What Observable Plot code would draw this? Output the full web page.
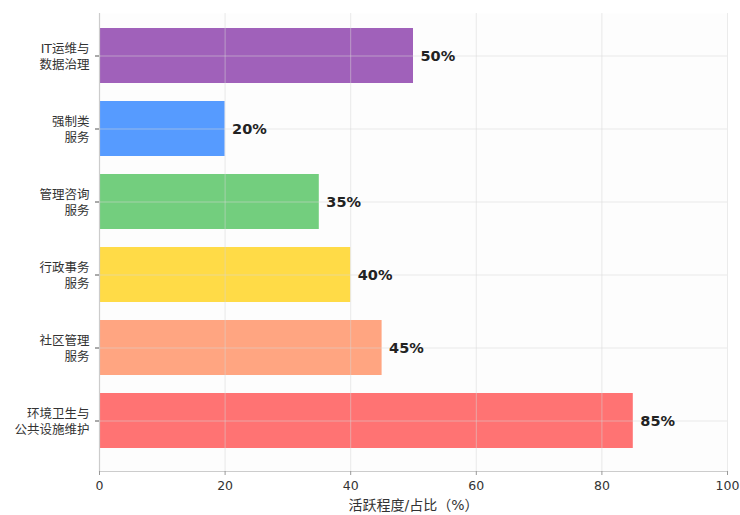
<!DOCTYPE html>
<html>
<head>
<meta charset="utf-8">
<script src="https://cdn.jsdelivr.net/npm/d3@7"></script>
<script src="https://cdn.jsdelivr.net/npm/@observablehq/plot@0.6"></script>
<style>
  html, body { margin: 0; padding: 0; background: #ffffff; }
  #chart { width: 740px; height: 515px; }
</style>
</head>
<body>
<div id="chart"></div>
<script>
const categories = ["IT运维与\n数据治理", "强制类\n服务", "管理咨询\n服务", "行政事务\n服务", "社区管理\n服务", "环境卫生与\n公共设施维护"];
const values = [50, 20, 35, 40, 45, 85];
const colors = ["#9B59B6", "#4D96FF", "#6BCB77", "#FFD93D", "#FFA07A", "#FF6B6B"];
const xTicks = [0, 20, 40, 60, 80, 100];
const xLabel = "活跃程度/占比（%）";

const data = categories.map((c, i) => ({category: c, value: values[i], color: colors[i]}));
const font = "'DejaVu Sans', 'Noto Sans CJK SC', sans-serif";

const plot = Plot.plot({
  width: 740,
  height: 515,
  marginLeft: 99,
  marginRight: 13,
  marginTop: 13,
  marginBottom: 44,
  style: {fontFamily: font, background: "#ffffff", color: "#333"},
  x: {domain: [0, 100], label: null},
  y: {domain: categories, paddingInner: 0.246, paddingOuter: 0, insetTop: 15, insetBottom: 22, label: null},
  marks: [
    Plot.frame({fill: "#fdfdfd", stroke: "none"}),
    Plot.barX(data, {x: "value", y: "category", fill: "color", fillOpacity: 0.95}),
    Plot.gridX({ticks: xTicks, stroke: "#d8d8d8", strokeOpacity: 0.5}),
    Plot.gridY({stroke: "#d8d8d8", strokeOpacity: 0.5}),
    Plot.ruleX([0], {stroke: "#cccccc", strokeWidth: 1.2}),
    Plot.frame({anchor: "bottom", stroke: "#cccccc", strokeWidth: 1.2}),
    Plot.text(data, {x: "value", y: "category", text: d => d.value + "%", textAnchor: "start", dx: 7, fontWeight: "bold", fontSize: 14.5, fill: "#222"}),
    Plot.axisX({ticks: xTicks, tickSize: 4, stroke: "#999", fontSize: 12.5, tickPadding: 6, label: null}),
    Plot.axisY({tickSize: 4, stroke: "#555", fontSize: 12.5, tickPadding: 6, lineHeight: 1.28, label: null}),
    Plot.text([xLabel], {frameAnchor: "bottom", dy: 38, fontSize: 14, fill: "#333"})
  ]
});
document.getElementById("chart").appendChild(plot);
</script>
</body>
</html>
